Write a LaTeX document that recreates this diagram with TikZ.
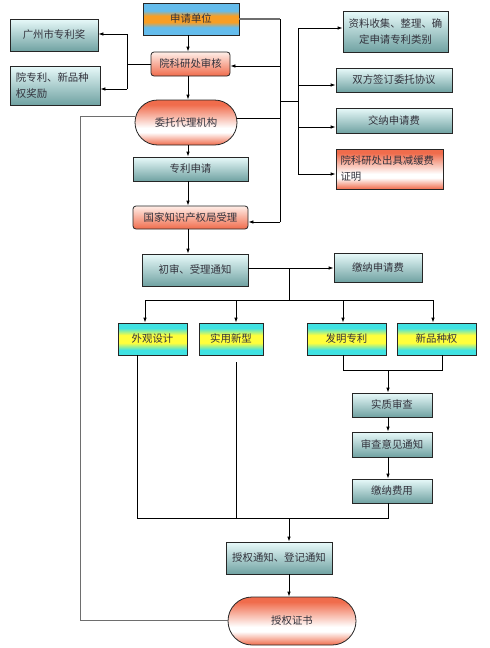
\documentclass[tikz,border=0pt]{standalone}
\usepackage{fontspec}
\newfontfamily\cjk{Noto Sans CJK SC}
\usetikzlibrary{arrows.meta,shapes.misc,shadings}
\definecolor{tealtop}{RGB}{232,250,250}
\definecolor{tealbot}{RGB}{112,162,162}
\definecolor{salm}{RGB}{240,108,76}
\definecolor{salmtop}{RGB}{255,238,232}
\definecolor{bluec}{RGB}{100,188,236}
\definecolor{orangec}{RGB}{248,158,36}
\definecolor{cyanc}{RGB}{64,226,226}
\definecolor{yellowc}{RGB}{255,255,60}
\definecolor{txt}{RGB}{50,50,60}
\definecolor{grayln}{RGB}{110,110,110}
\pgfdeclareverticalshading{bandblue}{100bp}{color(0bp)=(bluec); color(25bp)=(bluec); color(37bp)=(bluec); color(45bp)=(orangec); color(55bp)=(orangec); color(63bp)=(bluec); color(75bp)=(bluec); color(100bp)=(bluec)}
\pgfdeclareverticalshading{bandyellow}{100bp}{color(0bp)=(cyanc); color(25bp)=(cyanc); color(33bp)=(cyanc); color(44bp)=(yellowc); color(56bp)=(yellowc); color(67bp)=(cyanc); color(75bp)=(cyanc); color(100bp)=(cyanc)}
\pgfdeclareverticalshading{bandsalm}{100bp}{color(0bp)=(salm); color(25bp)=(salm); color(39bp)=(white); color(44bp)=(white); color(70bp)=(salm); color(75bp)=(salm); color(100bp)=(salm)}
\begin{document}
\begin{tikzpicture}[x=1pt,y=-1pt,
 box/.style={draw=black!85, line width=0.8pt, font=\cjk\fontsize{10.4}{16}\selectfont, text=txt, inner sep=2pt, align=center},
 tealbox/.style={box, top color=tealtop, bottom color=tealbot},
 salmbox/.style={box, rounded corners=3pt, top color=salmtop, bottom color=salm},
 pillbox/.style={box, rounded rectangle, shading=bandsalm},
 bluebox/.style={box, shading=bandblue},
 ybox/.style={box, shading=bandyellow},
 redbox/.style={box, shading=bandsalm},
 ln/.style={draw=black, line width=0.8pt},
 arr/.style={ln, -{Latex[length=5pt,width=3.5pt]}},
]
\fill[white] (0,0) rectangle (490,648);
\useasboundingbox (0,0) rectangle (490,648);

% nodes
\node[bluebox, minimum width=96pt, minimum height=32pt] (sqdw) at (191,19) {申请单位};
\node[tealbox, minimum width=88pt, minimum height=32pt] (gz) at (54,35) {广州市专利奖};
\node[tealbox, minimum width=90pt, minimum height=39pt, text width=78pt, align=left] (yzl) at (55,85.5) {院专利、新品种\\权奖励};
\node[salmbox, minimum width=79pt, minimum height=24pt] (sh) at (190.5,64) {院科研处审核};
\node[pillbox, minimum width=106pt, minimum height=45pt] (wt) at (186,122.5) {委托代理机构};
\node[tealbox, minimum width=115pt, minimum height=24pt] (zlsq) at (190.5,169) {专利申请};
\node[salmbox, minimum width=115pt, minimum height=23pt] (gj) at (190.5,217.5) {国家知识产权局受理};

\node[tealbox, minimum width=105pt, minimum height=41pt] (r1) at (395.5,31.5) {资料收集、整理、确\\定申请专利类别};
\node[tealbox, minimum width=116pt, minimum height=24pt] (r2) at (394,80) {双方签订委托协议};
\node[tealbox, minimum width=116pt, minimum height=25pt] (r3) at (394,120.5) {交纳申请费};
\node[redbox, minimum width=107pt, minimum height=40pt, text width=98pt, align=left] (r4) at (389.5,169) {院科研处出具减缓费\\证明};

\node[tealbox, minimum width=106pt, minimum height=32pt] (cs) at (195,270) {初审、受理通知};
\node[tealbox, minimum width=88pt, minimum height=29pt] (jn) at (378,267.5) {缴纳申请费};

\node[ybox, minimum width=69pt, minimum height=32pt] (wg) at (152.5,339) {外观设计};
\node[ybox, minimum width=64pt, minimum height=32pt] (sy) at (231,339) {实用新型};
\node[ybox, minimum width=79pt, minimum height=32pt] (fm) at (346.5,339) {发明专利};
\node[ybox, minimum width=79pt, minimum height=32pt] (xp) at (436.5,339) {新品种权};

\node[tealbox, minimum width=80pt, minimum height=24pt] (sz) at (392,405) {实质审查};
\node[tealbox, minimum width=80pt, minimum height=25pt] (scyj) at (392,444.5) {审查意见通知};
\node[tealbox, minimum width=80pt, minimum height=24pt] (jf) at (392,491) {缴纳费用};

\node[tealbox, minimum width=106pt, minimum height=32pt] (sq) at (279,558) {授权通知、登记通知};
\node[pillbox, minimum width=132pt, minimum height=48pt] (zs) at (292,621) {授权证书};

% main chain
\coordinate (mx) at (188,0);
\draw[arr] (sqdw.south -| mx) -- (sh.north -| mx);
\draw[arr] (sh.south -| mx) -- (wt.north -| mx);
\draw[arr] (wt.south -| mx) -- (zlsq.north -| mx);
\draw[arr] (zlsq.south -| mx) -- (gj.north -| mx);
\draw[arr] (gj.south -| mx) -- (cs.north -| mx);

% right trunk
\coordinate (ra) at (280,19);
\coordinate (rb) at (280,222);
\coordinate (rc) at (280,66);
\coordinate (rd) at (280,118);
\coordinate (re) at (280,101);
\coordinate (rf) at (298,101);
\draw[ln, draw=grayln, line width=1.1pt] (sqdw.east |- ra) -- (ra);
\draw[ln] (ra) -- (rb);
\draw[arr] (rb) -- (gj.east |- rb);
\draw[arr] (rc) -- (sh.east |- rc);
\draw[ln] (wt.east |- rd) -- (rd);
\draw[ln] (re) -- (rf);

% right bracket
\coordinate (b1) at (298,28);
\coordinate (b2) at (298,85);
\coordinate (b3) at (298,127);
\coordinate (b4) at (298,174);
\draw[ln] (b1) -- (b4);
\draw[arr] (b1) -- (r1.west |- b1);
\draw[arr] (b2) -- (r2.west |- b2);
\draw[arr] (b3) -- (r3.west |- b3);
\draw[arr] (b4) -- (r4.west |- b4);

% left bracket
\coordinate (la) at (127,64);
\coordinate (lb) at (127,34);
\coordinate (lc) at (127,89);
\draw[ln] (sh.west |- la) -- (la);
\draw[ln] (lb) -- (lc);
\draw[arr] (lb) -- (gz.east |- lb);
\draw[arr] (lc) -- (yzl.east |- lc);

% long left line
\coordinate (ta) at (80,116);
\coordinate (tb) at (80,620);
\draw[ln, draw=grayln] (wt.west |- ta) -- (ta) -- (tb) -- (zs.west |- tb);

% middle split
\coordinate (ma) at (289,268);
\coordinate (mb) at (289,300);
\draw[ln] (cs.east |- ma) -- (ma) -- (mb);
\draw[arr] (ma) -- (jn.west |- ma);
\coordinate (h1) at (145,300);
\coordinate (h2) at (236,300);
\coordinate (h3) at (343,300);
\coordinate (h4) at (433,300);
\draw[ln] (h1) -- (h4);
\draw[arr] (h1) -- (h1 |- wg.north);
\draw[arr] (h2) -- (h2 |- sy.north);
\draw[arr] (h3) -- (h3 |- fm.north);
\draw[arr] (h4) -- (h4 |- xp.north);

% invention / new variety merge
\coordinate (fa) at (343,370);
\coordinate (fb) at (442,370);
\coordinate (fc) at (388,370);
\draw[ln] (fa |- fm.south) -- (fa) -- (fb) -- (fb |- xp.south);
\draw[arr] (fc) -- (fc |- sz.north);
\draw[arr] (sz.south -| fc) -- (scyj.north -| fc);
\draw[arr] (scyj.south -| fc) -- (jf.north -| fc);

% bottom merge
\coordinate (v1) at (137,518);
\coordinate (v2t) at (236,362);
\coordinate (v2) at (236,518);
\coordinate (v3) at (388,518);
\coordinate (vm) at (289,518);
\draw[ln] (v1 |- wg.south) -- (v1) -- (v3) -- (v3 |- jf.south);
\draw[ln] (v2t) -- (v2);
\draw[arr] (vm) -- (vm |- sq.north);
\draw[arr] (sq.south -| vm) -- (zs.north -| vm);
\end{tikzpicture}
\end{document}
